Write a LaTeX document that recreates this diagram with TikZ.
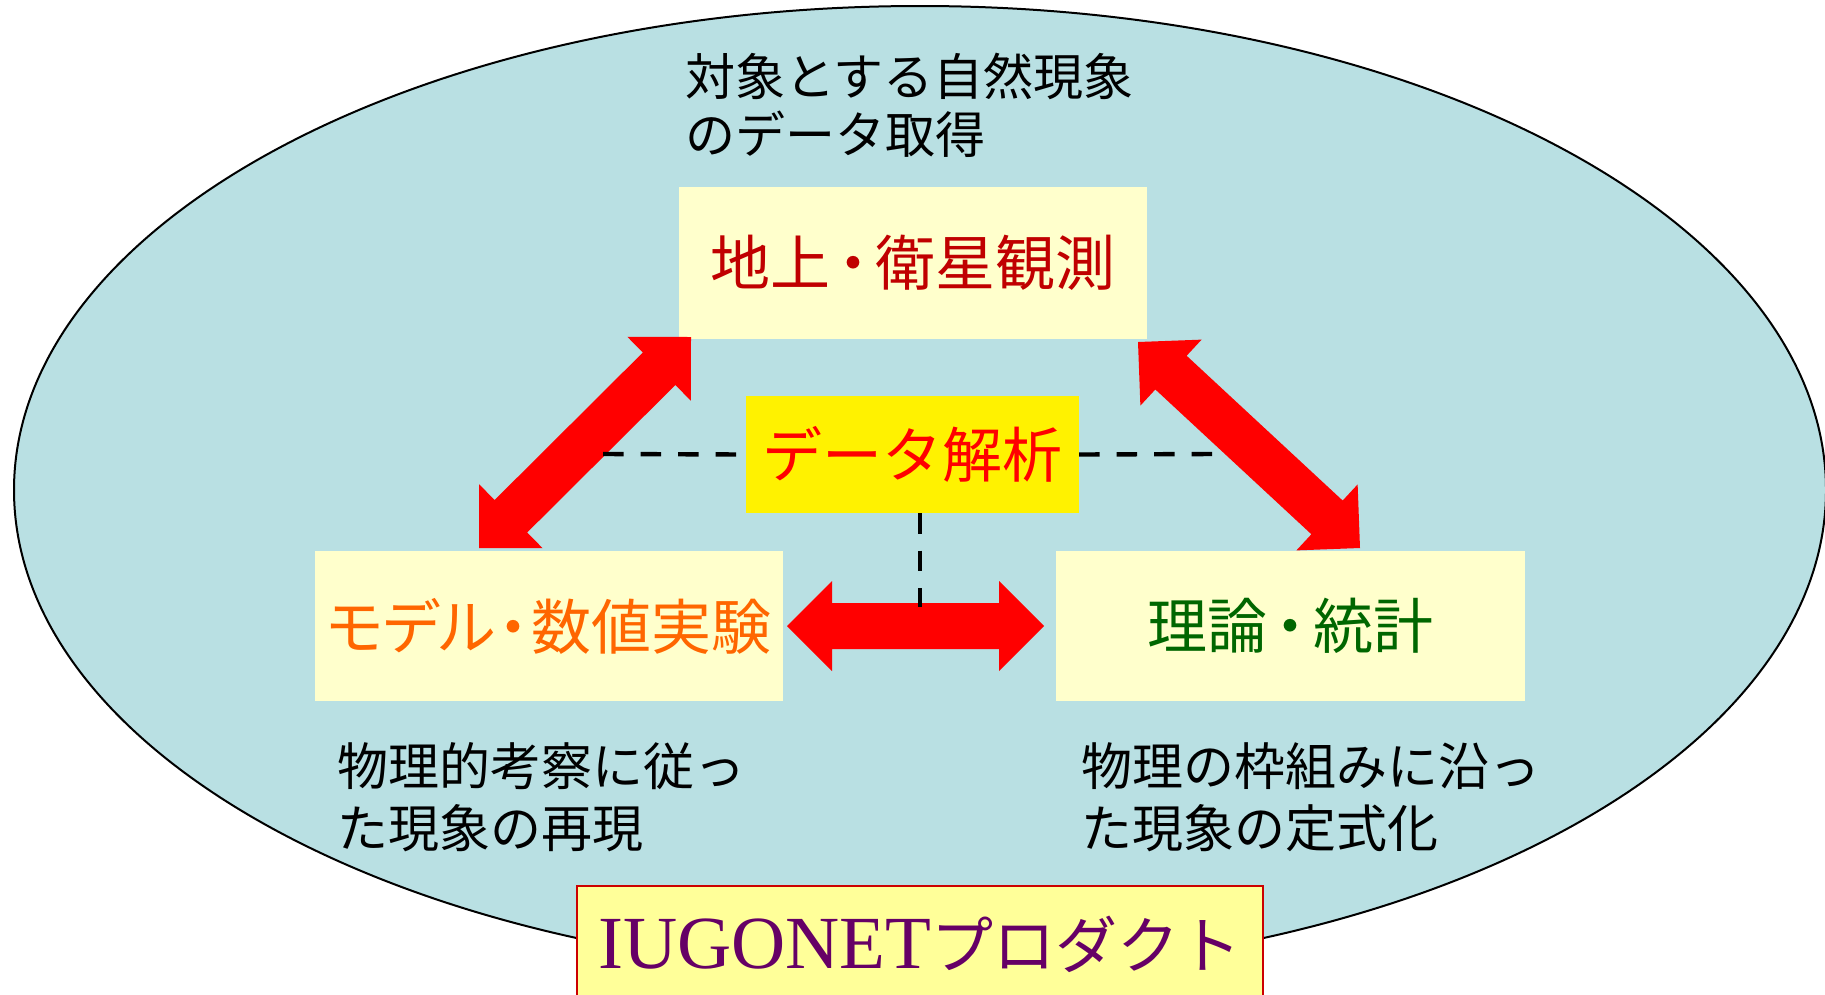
\documentclass[tikz,border=0pt]{standalone}
\usepackage{fontspec}
\setmainfont{Noto Sans CJK JP}
\newfontfamily\tmsfont{Liberation Serif}
\newfontfamily\paltfont[RawFeature=+palt]{Noto Sans CJK JP}
\usetikzlibrary{calc}
\definecolor{ellfill}{RGB}{185,224,227}
\definecolor{boxfill}{RGB}{255,255,204}
\definecolor{obsred}{RGB}{192,0,0}
\definecolor{modorange}{RGB}{255,102,0}
\definecolor{thgreen}{RGB}{0,102,0}
\definecolor{iugpurple}{RGB}{102,0,102}
\definecolor{iugfill}{RGB}{255,255,153}
\definecolor{iugborder}{RGB}{204,0,0}
\definecolor{arrowred}{RGB}{255,0,0}
\newcommand{\pxfont}[2]{\fontsize{#1pt}{#2pt}\selectfont}
\newcommand{\dblarrow}[2]{%
  \coordinate (#1-h1) at ($(#1)!45pt!(#2)$);
  \coordinate (#1-h2) at ($(#2)!45pt!(#1)$);
  \fill[arrowred] (#1) -- ($(#1-h1)!45pt!90:(#2)$) -- ($(#1-h1)!23pt!90:(#2)$)
    -- ($(#1-h2)!23pt!90:(#2)$) -- ($(#1-h2)!45pt!90:(#2)$) -- (#2)
    -- ($(#1-h2)!45pt!-90:(#2)$) -- ($(#1-h2)!23pt!-90:(#2)$)
    -- ($(#1-h1)!23pt!-90:(#2)$) -- ($(#1-h1)!45pt!-90:(#2)$) -- cycle;}
\tikzset{
  cbox/.style={fill=boxfill, draw=none, inner sep=0pt, font=\pxfont{60}{66}},
  dashline/.style={line width=4.4pt, dash pattern=on 20.5pt off 17pt},
  note/.style={anchor=west, align=left, inner sep=0pt},
}
\begin{document}
\begin{tikzpicture}[x=1pt,y=-1pt]
\useasboundingbox (0,0) rectangle (1825,994);
\clip (0,0) rectangle (1825,994);
% background ellipse
\draw[line width=2pt, fill=ellfill] (920,490) ellipse [x radius=906, y radius=484];
% title text
\node[note, font=\pxfont{50}{58}] (title) at (685,105) {対象とする自然現象\\のデータ取得};
% boxes
\node[cbox, minimum width=468pt, minimum height=152pt, text=obsred] (obs) at (913,263)
  {地上\kern-.12em・\kern-.12em衛星観測};
\node[cbox, fill=yellow, minimum width=333pt, minimum height=117pt, text=red] (ana) at (912.5,454.5)
  {データ解析};
\node[cbox, minimum width=468pt, minimum height=150pt, text=modorange] (mod) at (549,626)
  {\paltfont\pxfont{60}{66}モデル\kern.05em・\kern.05em数値実験};
\node[cbox, minimum width=469pt, minimum height=150pt, text=thgreen] (the) at (1290.5,626)
  {理論\kern-.12em・\kern-.12em統計};
% arrow end points
\coordinate (la) at (691,337);
\coordinate (lb) at (479,548);
\coordinate (ra) at (1138,342);
\coordinate (rb) at (1360,548);
\coordinate (ha) at (787,626);
\coordinate (hb) at (1044,626);
\dblarrow{la}{lb}
\dblarrow{ra}{rb}
\dblarrow{ha}{hb}
% dashed connectors
\coordinate (dl) at (603,454);
\coordinate (dr) at (1214,454);
\coordinate (dt) at (920,513);
\coordinate (db) at (920,607);
\draw[dashline] (dl) -- (ana.west);
\draw[dashline] (ana.east) -- (dr);
\draw[dashline] (dt) -- (db);
% notes
\node[note, font=\pxfont{51}{62}] (nl) at (337,797) {物理的考察に従っ\\た現象の再現};
\node[note, font=\pxfont{51}{62}] (nr) at (1081,797) {物理の枠組みに沿っ\\た現象の定式化};
% product box
\node[fill=iugfill, draw=iugborder, line width=2pt, anchor=base, minimum width=686pt,
  inner xsep=0pt, inner ysep=22pt, text height=60pt, text depth=40pt,
  text=iugpurple, font=\pxfont{62}{70}] (iug) at (920,968)
  {{\tmsfont\pxfont{75}{80}IUGONET}プロダクト};
\end{tikzpicture}
\end{document}
